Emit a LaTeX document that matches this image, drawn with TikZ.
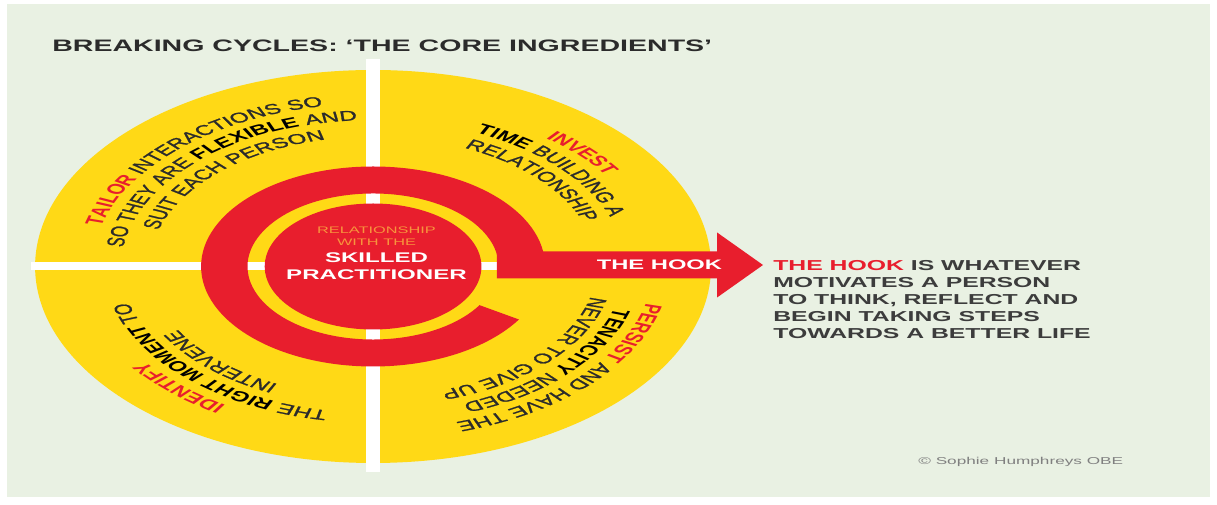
\documentclass[tikz,border=0pt]{standalone}
\usepackage{fontspec}
\setmainfont{Liberation Sans}
\newfontface\medface{Liberation Sans}[FakeBold=1.2]
\usetikzlibrary{decorations.text}

\definecolor{paper}{HTML}{E9F1E3}
\definecolor{sun}{HTML}{FFD916}
\definecolor{hookred}{HTML}{E81E2D}
\definecolor{ink}{HTML}{2B2B2B}
\definecolor{slate}{HTML}{3C3C3C}
\definecolor{amber}{HTML}{F7943C}

% formats for the curved lines
\newcommand{\qtxt}{\fontsize{14.2}{17}\medface\color{ink}}
\newcommand{\qkey}{\fontsize{14.2}{17}\selectfont\bfseries\color{black}}
\newcommand{\qred}{\fontsize{14.2}{17}\selectfont\bfseries\color{hookred}}
% one curved line: centre angle, radius, text
\newcommand{\ringline}[3]{%
    \path[decorate,decoration={text along path,text align=center,text={#3}}]
        ({#1+60}:#2) arc[start angle={#1+60},end angle={#1-60},radius=#2];}

\begin{document}
\begin{tikzpicture}[x=1pt,y=1pt,
        every node/.style={inner sep=0pt},
        bar/.style={white,line width=8.5pt}]

    \useasboundingbox (0,0) rectangle (1217,505);
    \fill[white] (0,0) rectangle (1217,505);
    \fill[paper] (7,8) rectangle (1210,501);

    \begin{scope}[transform canvas={xscale=1.72}]
    \node[anchor=base west,font=\fontsize{16.6}{20}\selectfont\bfseries,text=ink] (title) at (30.2,453)
        {BREAKING CYCLES: ‘THE CORE INGREDIENTS’};

    \begin{scope}[shift={(216.9,238.5)}]
        \fill[sun] (0,0) circle[radius=196.5];
        \draw[bar] (0,207) -- (0,-206);
        \draw[bar] (-199,0.5) -- (199,0.5);

        % the hook
        \fill[hookred] (0:100) arc[start angle=0,end angle=328,radius=100]
            -- (328:73) arc[start angle=328,end angle=0,radius=73] -- cycle;
        \fill[hookred] (72,-12) -- (200,-12) -- (200,-31) -- (226.7,1.5)
            -- (200,34) -- (200,15) -- (72,15) -- cycle;
        \fill[hookred] (0,0) circle[radius=63];

        \node[font=\fontsize{9.5}{11}\selectfont,text=amber] (rel) at (2,36.5) {RELATIONSHIP};
        \node[font=\fontsize{9.5}{11}\selectfont,text=amber] (with) at (2,24.5) {WITH THE};
        \node[font=\fontsize{14}{16}\selectfont\bfseries,text=white] (skilled) at (2,8.5) {SKILLED};
        \node[font=\fontsize{14}{16}\selectfont\bfseries,text=white] (pract) at (2,-8.5) {PRACTITIONER};
        \node[font=\fontsize{13.8}{16}\selectfont\bfseries,text=white] (hook) at (166.5,1.5) {THE HOOK};

        % quadrants
        \ringline{133}{163}{|\qred|TAILOR|\qtxt| INTERACTIONS SO}
        \ringline{133}{146.5}{|\qtxt|SO THEY ARE |\qkey|FLEXIBLE|\qtxt| AND}
        \ringline{133}{130}{|\qtxt|SUIT EACH PERSON}

        \ringline{43}{163}{|\qred|INVEST}
        \ringline{43}{146.5}{|\qkey|TIME|\qtxt| BUILDING A}
        \ringline{43}{130}{|\qtxt|RELATIONSHIP}

        \ringline{317}{163}{|\qred|PERSIST|\qtxt| AND HAVE THE}
        \ringline{317}{146.5}{|\qkey|TENACITY|\qtxt| NEEDED}
        \ringline{317}{130}{|\qtxt|NEVER TO GIVE UP}

        \ringline{227}{163}{|\qred|IDENTIFY}
        \ringline{227}{146.5}{|\qtxt|THE |\qkey|RIGHT MOMENT|\qtxt| TO}
        \ringline{227}{130}{|\qtxt|INTERVENE}
    \end{scope}

    \node[anchor=base west,align=left,font=\fontsize{14.4}{17}\selectfont\bfseries,text=slate] (blurb) at (449.4,166)
        {\textcolor{hookred}{THE HOOK} IS WHATEVER\\MOTIVATES A PERSON\\TO THINK, REFLECT AND\\BEGIN TAKING STEPS\\TOWARDS A BETTER LIFE};
    \node[anchor=base west,font=\fontsize{10}{12}\selectfont,text=gray] (credit) at (533.7,40)
        {© Sophie Humphreys OBE};
    \end{scope}
\end{tikzpicture}
\end{document}
